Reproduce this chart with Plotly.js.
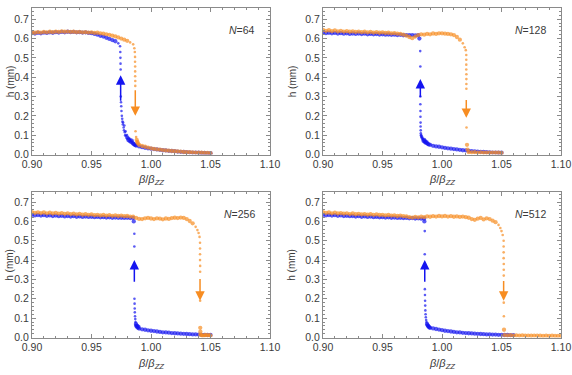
<!DOCTYPE html>
<html>
<head>
<meta charset="utf-8">
<script src="https://cdn.plot.ly/plotly-3.0.1.min.js"></script>
<style>
  html, body { margin: 0; padding: 0; background: #fff; }
  #chart { width: 572px; height: 375px; }
</style>
</head>
<body>
<div id="chart"></div>
<script>
// Film thickness h (mm) versus reduced coupling beta/beta_zz,
// two sweep directions (blue: up-branch, orange: down-branch) for four system sizes N.

// ---------- N = 64 ----------
const n64UpX = [0.9000,0.9025,0.9050,0.9075,0.9100,0.9125,0.9150,0.9175,0.9200,0.9225,0.9250,0.9275,0.9300,0.9325,0.9350,0.9375,0.9400,0.9425,0.9450,0.9475,0.9500,0.9525,0.9550,0.9575,0.9600,0.9625,0.9650,0.9675,0.9700,0.9725,
  0.9740,0.9742,0.9743,0.9744,0.9745,0.9746,0.9748,0.9750,0.9752,0.9755,0.9758,0.9760,0.9763,0.9766,0.9770,0.9773,0.9776,0.9780,0.9783,0.9786,0.9790,0.9794,0.9798,0.9802,0.9806,0.9810,0.9815,0.9820,0.9826,0.9832,0.9838,0.9845,0.9852,0.9860,0.9868,
  0.9875,0.9900,0.9925,0.9950,0.9975,1.0000,1.0025,1.0050,1.0075,1.0100,1.0125,1.0150,1.0175,1.0200,1.0225,1.0250,1.0275,1.0300,1.0325,1.0350,1.0375,1.0400,1.0425,1.0450,1.0475,1.0500];
const n64UpH = [0.628,0.626,0.630,0.627,0.631,0.629,0.632,0.630,0.633,0.631,0.634,0.632,0.635,0.633,0.634,0.632,0.633,0.631,0.632,0.629,0.628,0.624,0.620,0.614,0.610,0.604,0.598,0.592,0.586,0.575,
  0.560,0.530,0.500,0.470,0.440,0.300,0.270,0.250,0.225,0.200,0.185,0.170,0.155,0.165,0.140,0.125,0.150,0.115,0.100,0.120,0.095,0.085,0.100,0.080,0.090,0.075,0.085,0.070,0.080,0.065,0.072,0.060,0.055,0.052,0.048,
  0.046,0.042,0.038,0.035,0.032,0.030,0.028,0.026,0.024,0.022,0.021,0.019,0.018,0.017,0.015,0.014,0.013,0.012,0.011,0.010,0.010,0.009,0.008,0.008,0.007,0.007];
const n64DownX = [0.9000,0.9025,0.9050,0.9075,0.9100,0.9125,0.9150,0.9175,0.9200,0.9225,0.9250,0.9275,0.9300,0.9325,0.9350,0.9375,0.9400,0.9425,0.9450,0.9475,0.9500,0.9525,0.9550,0.9575,0.9600,0.9625,0.9650,0.9675,0.9700,0.9725,0.9750,0.9775,0.9800,0.9825,0.9850,
  0.9860,0.9864,0.9866,0.9866,0.9867,0.9867,0.9867,0.9868,0.9868,0.9870,0.9875,0.9880,0.9885,0.9890,
  0.9900,0.9925,0.9950,0.9975,1.0000,1.0025,1.0050,1.0075,1.0100,1.0125,1.0150,1.0175,1.0200,1.0225,1.0250,1.0275,1.0300,1.0325,1.0350,1.0375,1.0400,1.0425,1.0450,1.0475,1.0500];
const n64DownH = [0.632,0.630,0.633,0.631,0.634,0.632,0.635,0.633,0.636,0.634,0.637,0.635,0.636,0.634,0.635,0.633,0.634,0.632,0.633,0.631,0.632,0.629,0.630,0.627,0.625,0.622,0.619,0.615,0.611,0.606,0.600,0.594,0.588,0.580,0.570,
  0.550,0.530,0.505,0.480,0.455,0.430,0.405,0.380,0.355,0.120,0.090,0.075,0.065,0.058,
  0.050,0.044,0.040,0.036,0.032,0.029,0.027,0.025,0.023,0.021,0.020,0.018,0.017,0.016,0.015,0.013,0.012,0.012,0.011,0.010,0.009,0.009,0.008,0.008,0.007];

// ---------- N = 128 ----------
const n128UpX = [0.9000,0.9025,0.9050,0.9075,0.9100,0.9125,0.9150,0.9175,0.9200,0.9225,0.9250,0.9275,0.9300,0.9325,0.9350,0.9375,0.9400,0.9425,0.9450,0.9475,0.9500,0.9525,0.9550,0.9575,0.9600,0.9625,0.9650,0.9675,0.9700,0.9725,0.9750,0.9775,0.9800,
  0.9810,0.9817,0.9818,0.9818,0.9818,0.9819,0.9819,0.9820,0.9820,0.9821,0.9822,0.9823,0.9825,0.9827,0.9830,0.9833,0.9836,0.9840,0.9845,0.9850,0.9855,0.9860,0.9866,0.9872,0.9880,0.9888,
  0.9900,0.9925,0.9950,0.9975,1.0000,1.0025,1.0050,1.0075,1.0100,1.0125,1.0150,1.0175,1.0200,1.0225,1.0250,1.0275,1.0300,1.0325,1.0350,1.0375,1.0400,1.0425,1.0450,1.0475,1.0500];
const n128UpH = [0.632,0.628,0.630,0.627,0.629,0.626,0.628,0.625,0.627,0.624,0.626,0.624,0.626,0.623,0.625,0.622,0.624,0.622,0.623,0.621,0.622,0.620,0.621,0.619,0.620,0.618,0.619,0.617,0.618,0.617,0.618,0.616,0.617,
  0.600,0.535,0.455,0.300,0.260,0.225,0.195,0.165,0.145,0.125,0.110,0.100,0.092,0.098,0.085,0.090,0.078,0.082,0.070,0.075,0.065,0.068,0.060,0.062,0.055,0.052,
  0.050,0.045,0.042,0.040,0.037,0.034,0.032,0.030,0.028,0.026,0.024,0.022,0.021,0.019,0.017,0.016,0.015,0.014,0.013,0.012,0.011,0.010,0.010,0.009,0.009];
const n128DownX = [0.9000,0.9025,0.9050,0.9075,0.9100,0.9125,0.9150,0.9175,0.9200,0.9225,0.9250,0.9275,0.9300,0.9325,0.9350,0.9375,0.9400,0.9425,0.9450,0.9475,0.9500,0.9525,0.9550,0.9575,0.9600,0.9625,0.9650,0.9675,0.9700,0.9725,0.9750,0.9775,0.9800,0.9825,0.9850,0.9875,0.9900,0.9925,0.9950,0.9975,1.0000,1.0025,1.0050,1.0075,1.0100,1.0125,1.0150,1.0175,
  1.0190,1.0200,1.0204,1.0204,1.0204,1.0204,1.0205,1.0205,1.0205,1.0205,1.0206,1.0210,1.0215,
  1.0225,1.0250,1.0275,1.0300,1.0325,1.0350,1.0375,1.0400,1.0425,1.0450,1.0475,1.0500];
const n128DownH = [0.645,0.640,0.643,0.638,0.642,0.637,0.640,0.636,0.638,0.635,0.637,0.634,0.636,0.633,0.635,0.632,0.634,0.631,0.633,0.630,0.632,0.629,0.630,0.627,0.628,0.625,0.624,0.620,0.615,0.608,0.602,0.610,0.618,0.622,0.620,0.624,0.622,0.626,0.624,0.627,0.627,0.625,0.624,0.622,0.618,0.608,0.594,0.575,
  0.555,0.540,0.515,0.490,0.465,0.440,0.415,0.390,0.365,0.340,0.140,0.050,0.025,
  0.012,0.011,0.012,0.010,0.011,0.010,0.010,0.009,0.010,0.009,0.009,0.008];

// ---------- N = 256 ----------
const n256UpX = [0.9000,0.9025,0.9050,0.9075,0.9100,0.9125,0.9150,0.9175,0.9200,0.9225,0.9250,0.9275,0.9300,0.9325,0.9350,0.9375,0.9400,0.9425,0.9450,0.9475,0.9500,0.9525,0.9550,0.9575,0.9600,0.9625,0.9650,0.9675,0.9700,0.9725,0.9750,0.9775,0.9800,0.9825,0.9850,
  0.9855,0.9860,0.9860,0.9861,0.9862,0.9863,0.9864,0.9866,0.9868,0.9870,0.9873,0.9876,0.9880,0.9885,0.9890,0.9895,
  0.9900,0.9925,0.9950,0.9975,1.0000,1.0025,1.0050,1.0075,1.0100,1.0125,1.0150,1.0175,1.0200,1.0225,1.0250,1.0275,1.0300,1.0325,1.0350,1.0375,1.0400,1.0425,1.0450,1.0475,1.0500];
const n256UpH = [0.634,0.631,0.633,0.630,0.632,0.629,0.631,0.628,0.630,0.627,0.629,0.626,0.628,0.625,0.627,0.624,0.626,0.623,0.625,0.623,0.624,0.622,0.623,0.621,0.622,0.620,0.621,0.619,0.620,0.619,0.619,0.618,0.619,0.617,0.618,
  0.600,0.536,0.470,0.200,0.175,0.150,0.130,0.110,0.095,0.080,0.070,0.062,0.056,0.060,0.050,0.055,
  0.046,0.042,0.040,0.037,0.035,0.033,0.031,0.029,0.027,0.026,0.025,0.023,0.022,0.021,0.020,0.019,0.018,0.017,0.016,0.016,0.015,0.014,0.014,0.013,0.013];
const n256DownX = [0.9000,0.9025,0.9050,0.9075,0.9100,0.9125,0.9150,0.9175,0.9200,0.9225,0.9250,0.9275,0.9300,0.9325,0.9350,0.9375,0.9400,0.9425,0.9450,0.9475,0.9500,0.9525,0.9550,0.9575,0.9600,0.9625,0.9650,0.9675,0.9700,0.9725,0.9750,0.9775,0.9800,0.9825,0.9850,0.9875,0.9900,0.9925,0.9950,0.9975,1.0000,1.0025,1.0050,1.0075,1.0100,1.0125,1.0150,1.0175,1.0200,1.0225,1.0250,1.0275,1.0300,1.0325,1.0350,1.0375,
  1.0390,1.0400,1.0408,1.0412,1.0412,1.0412,1.0412,1.0413,1.0413,1.0413,1.0414,1.0415,
  1.0415,1.0425,1.0435,1.0450,1.0460,1.0475,1.0490,1.0500];
const n256DownH = [0.648,0.644,0.647,0.643,0.646,0.642,0.645,0.641,0.644,0.640,0.643,0.639,0.642,0.638,0.640,0.636,0.639,0.635,0.637,0.634,0.636,0.632,0.634,0.631,0.633,0.630,0.632,0.629,0.631,0.628,0.630,0.627,0.628,0.625,0.624,0.618,0.613,0.612,0.616,0.618,0.615,0.612,0.616,0.614,0.611,0.615,0.613,0.617,0.619,0.617,0.620,0.618,0.612,0.602,0.590,0.572,
  0.555,0.540,0.520,0.490,0.460,0.430,0.400,0.370,0.340,0.190,0.050,0.030,
  0.015,0.012,0.010,0.011,0.013,0.011,0.012,0.010];

// ---------- N = 512 ----------
const n512UpX = [0.9000,0.9025,0.9050,0.9075,0.9100,0.9125,0.9150,0.9175,0.9200,0.9225,0.9250,0.9275,0.9300,0.9325,0.9350,0.9375,0.9400,0.9425,0.9450,0.9475,0.9500,0.9525,0.9550,0.9575,0.9600,0.9625,0.9650,0.9675,0.9700,0.9725,0.9750,0.9775,0.9800,0.9825,0.9850,
  0.9852,0.9855,0.9855,0.9856,0.9857,0.9858,0.9859,0.9860,0.9862,0.9864,0.9867,0.9870,0.9874,0.9878,0.9883,0.9888,0.9894,
  0.9900,0.9925,0.9950,0.9975,1.0000,1.0025,1.0050,1.0075,1.0100,1.0125,1.0150,1.0175,1.0200,1.0225,1.0250,1.0275,1.0300,1.0325,1.0350,1.0375,1.0400,1.0425,1.0450,1.0475,1.0500,1.0525,1.0550,1.0575,1.0600];
const n512UpH = [0.634,0.631,0.633,0.630,0.632,0.629,0.631,0.628,0.629,0.627,0.628,0.625,0.627,0.624,0.626,0.623,0.625,0.622,0.623,0.621,0.622,0.620,0.621,0.619,0.620,0.618,0.619,0.617,0.618,0.616,0.617,0.615,0.616,0.614,0.615,
  0.600,0.550,0.430,0.250,0.220,0.190,0.165,0.140,0.120,0.105,0.090,0.080,0.070,0.064,0.060,0.056,0.052,
  0.050,0.047,0.044,0.041,0.038,0.035,0.033,0.031,0.029,0.027,0.026,0.024,0.023,0.022,0.021,0.020,0.019,0.018,0.017,0.016,0.016,0.015,0.015,0.014,0.014,0.013,0.013,0.012,0.012];
const n512DownX = [0.9000,0.9025,0.9050,0.9075,0.9100,0.9125,0.9150,0.9175,0.9200,0.9225,0.9250,0.9275,0.9300,0.9325,0.9350,0.9375,0.9400,0.9425,0.9450,0.9475,0.9500,0.9525,0.9550,0.9575,0.9600,0.9625,0.9650,0.9675,0.9700,0.9725,0.9750,0.9775,0.9800,0.9825,0.9850,0.9875,0.9900,0.9925,0.9950,0.9975,1.0000,1.0025,1.0050,1.0075,1.0100,1.0125,1.0150,1.0175,1.0200,1.0225,1.0250,1.0275,1.0300,1.0325,1.0350,1.0375,1.0400,1.0425,1.0450,1.0475,
  1.0490,1.0500,1.0510,1.0518,1.0518,1.0518,1.0518,1.0519,1.0519,1.0519,1.0519,1.0520,1.0521,
  1.0525,1.0550,1.0575,1.0600,1.0625,1.0650,1.0675,1.0700,1.0725,1.0750,1.0775,1.0800,1.0825,1.0850,1.0875,1.0900,1.0925,1.0950,1.0975,1.1000];
const n512DownH = [0.648,0.644,0.646,0.642,0.645,0.641,0.643,0.640,0.642,0.638,0.641,0.637,0.639,0.636,0.638,0.635,0.637,0.634,0.636,0.633,0.634,0.631,0.633,0.630,0.631,0.628,0.630,0.627,0.626,0.622,0.620,0.623,0.621,0.624,0.622,0.626,0.624,0.627,0.625,0.628,0.626,0.628,0.625,0.627,0.624,0.626,0.623,0.625,0.622,0.619,0.612,0.608,0.614,0.618,0.610,0.616,0.612,0.604,0.596,0.582,
  0.566,0.550,0.530,0.500,0.470,0.440,0.410,0.380,0.350,0.320,0.180,0.110,0.040,
  0.012,0.011,0.012,0.010,0.011,0.010,0.011,0.009,0.010,0.009,0.010,0.009,0.009,0.008,0.009,0.008,0.009,0.008,0.008,0.008];

// Panel labels and sweep-direction arrows (beta position, start h, end h)
const sizeLabels = ['64', '128', '256', '512'];
const arrowUpBeta = [0.9745, 0.9818, 0.9860, 0.9855];
const arrowUpFrom = [0.27, 0.29, 0.28, 0.28];
const arrowUpTo = [0.41, 0.39, 0.40, 0.40];
const arrowDownBeta = [0.9868, 1.0204, 1.0412, 1.0518];
const arrowDownFrom = [0.34, 0.29, 0.31, 0.30];
const arrowDownTo = [0.20, 0.19, 0.19, 0.19];

const upSeries = [[n64UpX, n64UpH], [n128UpX, n128UpH], [n256UpX, n256UpH], [n512UpX, n512UpH]];
const downSeries = [[n64DownX, n64DownH], [n128DownX, n128DownH], [n256DownX, n256DownH], [n512DownX, n512DownH]];

const BLUE = '#1414f0';
const ORANGE = '#f78d22';
const FONT = 'Arial, Liberation Sans, sans-serif';
const TEXT = '#3a3a3a';
const FRAME = '#8a8a8a';

// dots on the steep jump are sparse and fine; plateau/tail dots pile up into a band
const dotSize = (hs) => hs.map(v => (v > 0.075 && v < 0.585) ? 2.6 : 4.3);

const W = 572, H = 375;
// plot frames in pixels: [left, right], [top, bottom]
const colPx = [[32, 270], [323, 561]];
const rowPx = [[8, 154.5], [192, 337.5]];
const yTop = [0.758, 0.752];

const traces = [];
const annotations = [];
const layout = {
  width: W, height: H,
  margin: {l: 0, r: 0, t: 0, b: 0},
  paper_bgcolor: '#fff', plot_bgcolor: '#fff',
  showlegend: false,
  font: {family: FONT, size: 10, color: TEXT},
};

for (let i = 0; i < 4; i++) {
  const col = i % 2, row = Math.floor(i / 2);
  const sfx = i === 0 ? '' : String(i + 1);
  const xa = 'x' + sfx, ya = 'y' + sfx;
  const [l, r] = colPx[col];
  const [t, b] = rowPx[row];

  layout['xaxis' + sfx] = {
    domain: [l / W, r / W], anchor: ya,
    range: [0.9, 1.1], tick0: 0.9, dtick: 0.05, tickformat: '.2f',
    ticks: 'inside', ticklen: 4, tickwidth: 1, tickcolor: FRAME,
    minor: {tick0: 0.9, dtick: 0.01, ticks: 'inside', ticklen: 2, tickwidth: 1, tickcolor: FRAME},
    showline: true, linecolor: FRAME, linewidth: 1, mirror: 'allticks',
    showgrid: false, zeroline: false, fixedrange: true,
    tickfont: {family: FONT, size: 10.5, color: TEXT},
  };
  layout['yaxis' + sfx] = {
    domain: [1 - b / H, 1 - t / H], anchor: xa,
    range: [0, yTop[row]], tick0: 0, dtick: 0.1, tickformat: '.1f',
    ticks: 'inside', ticklen: 4, tickwidth: 1, tickcolor: FRAME,
    minor: {tick0: 0, dtick: 0.02, ticks: 'inside', ticklen: 2, tickwidth: 1, tickcolor: FRAME},
    showline: true, linecolor: FRAME, linewidth: 1, mirror: 'allticks',
    showgrid: false, zeroline: false, fixedrange: true,
    tickfont: {family: FONT, size: 10.5, color: TEXT},
  };

  traces.push({
    type: 'scatter', mode: 'markers', xaxis: xa, yaxis: ya,
    x: upSeries[i][0], y: upSeries[i][1],
    marker: {color: BLUE, size: dotSize(upSeries[i][1]), line: {width: 0}},
    hoverinfo: 'skip', cliponaxis: true,
  });
  traces.push({
    type: 'scatter', mode: 'markers', xaxis: xa, yaxis: ya,
    x: downSeries[i][0], y: downSeries[i][1],
    marker: {color: ORANGE, size: dotSize(downSeries[i][1]), line: {width: 0}},
    hoverinfo: 'skip', cliponaxis: true,
  });

  // sweep direction arrows
  annotations.push({
    xref: xa, yref: ya, axref: xa, ayref: ya,
    x: arrowUpBeta[i], y: arrowUpTo[i], ax: arrowUpBeta[i], ay: arrowUpFrom[i],
    text: '', showarrow: true, arrowhead: 2, arrowsize: 1.25, arrowwidth: 1.5,
    arrowcolor: BLUE, standoff: 0, startstandoff: 0,
  });
  annotations.push({
    xref: xa, yref: ya, axref: xa, ayref: ya,
    x: arrowDownBeta[i], y: arrowDownTo[i], ax: arrowDownBeta[i], ay: arrowDownFrom[i],
    text: '', showarrow: true, arrowhead: 2, arrowsize: 1.25, arrowwidth: 1.5,
    arrowcolor: ORANGE, standoff: 0, startstandoff: 0,
  });

  // system size label
  annotations.push({
    xref: xa + ' domain', yref: ya + ' domain',
    x: 0.947, y: 0.85, xanchor: 'right', yanchor: 'middle',
    text: '<i>N</i>=' + sizeLabels[i], showarrow: false,
    font: {family: FONT, size: 10.5, color: TEXT},
  });

  // axis titles
  annotations.push({
    xref: 'paper', yref: 'paper',
    x: ((l + r) / 2) / W, y: 1 - (row === 0 ? 180 : 364) / H,
    xanchor: 'center', yanchor: 'middle',
    text: '<i>β</i>/<i>β</i><sub><i>ZZ</i></sub>', showarrow: false,
    font: {family: FONT, size: 11, color: TEXT},
  });
  annotations.push({
    xref: 'paper', yref: 'paper',
    x: (col === 0 ? 10 : 292) / W, y: 1 - ((t + b) / 2) / H,
    xanchor: 'center', yanchor: 'middle', textangle: -90,
    text: 'h (mm)', showarrow: false,
    font: {family: FONT, size: 10, color: TEXT},
  });
}

layout.annotations = annotations;

Plotly.newPlot('chart', traces, layout, {staticPlot: true, displayModeBar: false});
</script>
</body>
</html>
